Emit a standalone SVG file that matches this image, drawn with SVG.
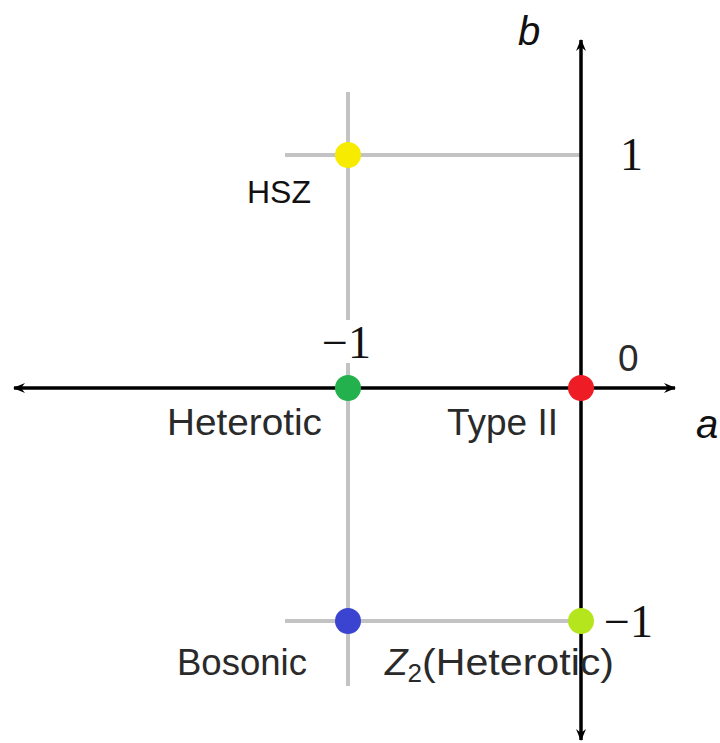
<svg xmlns="http://www.w3.org/2000/svg" width="720" height="743" viewBox="0 0 720 743">
<style>
.grid{stroke:#c3c3c3;stroke-width:4;fill:none}
.axis{stroke:#000;stroke-width:3.5;fill:none}
.lbl{font-family:"Liberation Sans","DejaVu Sans",sans-serif;font-size:37px;fill:#2a2a2a}
.num{font-family:"Liberation Serif","DejaVu Serif",serif;font-size:46px;fill:#111}
.var{font-family:"Liberation Sans","DejaVu Sans",sans-serif;font-style:italic;font-size:40px;fill:#111}
</style>
<defs>
<marker id="ah" viewBox="-12 -6 14 12" refX="0" refY="0" markerWidth="14" markerHeight="12" markerUnits="userSpaceOnUse" orient="auto-start-reverse">
<path d="M1,0 L-11,-5 L-7,0 L-11,5 Z" fill="#000"/>
</marker>
</defs>
<g id="connectors">
<line class="grid" x1="348" y1="92" x2="348" y2="320"/>
<line class="grid" x1="348" y1="363" x2="348" y2="686"/>
<line class="grid" x1="285" y1="155" x2="581" y2="155"/>
<line class="grid" x1="285" y1="621" x2="581" y2="621"/>
<line class="axis" x1="14" y1="388" x2="675" y2="388" marker-start="url(#ah)" marker-end="url(#ah)"/>
<line class="axis" x1="581" y1="740" x2="581" y2="40" marker-start="url(#ah)" marker-end="url(#ah)"/>
</g>
<g id="axis-labels">
<text class="var" x="518" y="45">b</text>
<text class="var" x="696" y="438">a</text>
<text class="num" x="620" y="170">1</text>
<text class="lbl" x="618" y="371" font-size="39">0</text>
<text class="num" x="322" y="358">−1</text>
<text class="num" x="604" y="637">−1</text>
</g>
<g id="hsz">
<circle cx="348" cy="155" r="13" fill="#f7ec00"/>
<text x="247" y="203" font-family="'Liberation Sans',Arial,sans-serif" font-size="32" fill="#111">HSZ</text>
</g>
<g id="heterotic">
<circle cx="348" cy="388" r="13" fill="#22b14c"/>
<text class="lbl" x="167" y="435" textLength="155" lengthAdjust="spacingAndGlyphs">Heterotic</text>
</g>
<g id="type-ii">
<circle cx="581" cy="388" r="13" fill="#ee1c24"/>
<text class="lbl" x="447" y="435" textLength="111" lengthAdjust="spacingAndGlyphs">Type II</text>
</g>
<g id="bosonic">
<circle cx="348" cy="621" r="13" fill="#3a44d0"/>
<text class="lbl" x="177" y="675" textLength="130" lengthAdjust="spacingAndGlyphs">Bosonic</text>
</g>
<g id="z2-heterotic">
<circle cx="581" cy="621" r="13" fill="#b5e61d"/>
<text class="lbl" x="385" y="675"><tspan font-style="italic">Z</tspan><tspan font-size="26" dy="7">2</tspan><tspan dy="-7" textLength="192" lengthAdjust="spacingAndGlyphs">(Heterotic)</tspan></text>
</g>
</svg>
